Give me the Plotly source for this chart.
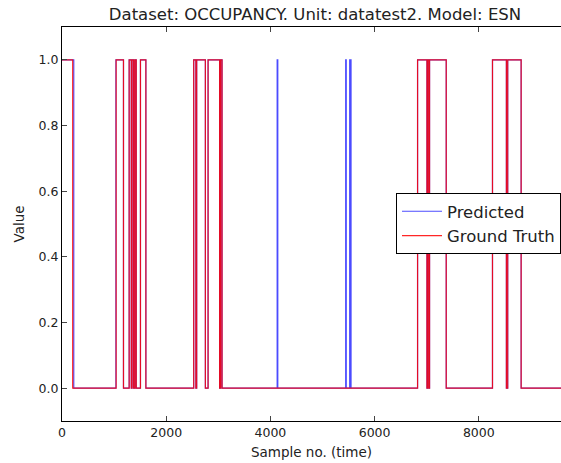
import plotly.graph_objects as go

# Occupancy step signals: sample index where each level starts, and the level (0/1)
truth_edges = [0, 205, 1039, 1180, 1289, 1330, 1345, 1375, 1400, 1425, 1506, 1610,
               2528, 2570, 2585, 2752, 2804, 3025, 3045, 3072,
               6825, 7005, 7015, 7040, 7055, 7375, 8263, 8530, 8555, 8813, 9752]
truth_levels = [1, 0, 1, 0, 1, 0, 1, 0, 1, 0, 1, 0,
                1, 0, 1, 0, 1, 0, 1, 0,
                1, 0, 1, 0, 1, 0, 1, 0, 1, 0, 0]

pred_edges = [0, 226, 1035, 1180, 1289, 1330, 1345, 1375, 1400, 1425, 1506, 1610,
              2528, 2570, 2585, 2752, 2804, 3025, 3045, 3072,
              4130, 4142, 5445, 5456, 5522, 5530, 5538, 5548,
              6825, 7005, 7015, 7040, 7055, 7375, 8263, 8530, 8555, 8813, 9752]
pred_levels = [1, 0, 1, 0, 1, 0, 1, 0, 1, 0, 1, 0,
               1, 0, 1, 0, 1, 0, 1, 0,
               1, 0, 1, 0, 1, 0, 1, 0,
               1, 0, 1, 0, 1, 0, 1, 0, 1, 0, 0]

x_ticks = [0, 2000, 4000, 6000, 8000]
y_ticks = [0.0, 0.2, 0.4, 0.6, 0.8, 1.0]

W, H = 561, 463
left, top, bottom = 61.5, 27, 421

fig = go.Figure()
fig.add_trace(go.Scatter(x=pred_edges, y=pred_levels, mode="lines", name="Predicted",
                         line=dict(color="#0000ff", width=1.2, shape="hv"), opacity=0.7))
fig.add_trace(go.Scatter(x=truth_edges, y=truth_levels, mode="lines", name="Ground Truth",
                         line=dict(color="#ff0000", width=1.2, shape="hv"), opacity=0.85))

font = "DejaVu Sans"
fig.update_layout(
    width=W, height=H,
    margin=dict(l=left, r=0, t=top, b=H - bottom, autoexpand=False),
    paper_bgcolor="white", plot_bgcolor="white",
    font=dict(family=font, size=12, color="#222"),
    title=dict(text="Dataset: OCCUPANCY. Unit: datatest2. Model: ESN",
               x=315 / W, xanchor="center", xref="container",
               y=1 - 14 / H, yanchor="middle", yref="container",
               font=dict(family=font, size=16.5, color="#222")),
    xaxis=dict(range=[0, 9578], tickvals=x_ticks, ticktext=[str(v) for v in x_ticks],
               ticks="inside", ticklen=5, tickcolor="#444", showline=True, linecolor="black",
               linewidth=1, mirror="ticks", showgrid=False, zeroline=False,
               tickfont=dict(family=font, size=12.5, color="#222"),
               title=dict(text="Sample no. (time)", standoff=8,
                          font=dict(family=font, size=13.5, color="#222"))),
    yaxis=dict(range=[-0.1, 1.1], tickvals=y_ticks, tickformat=".1f",
               ticks="inside", ticklen=5, tickcolor="#444", showline=True, linecolor="black",
               linewidth=1, mirror=False, showgrid=False, zeroline=False,
               tickfont=dict(family=font, size=12.5, color="#222"),
               title=dict(text="Value", standoff=10,
                          font=dict(family=font, size=13.5, color="#222"))),
    legend=dict(x=1, xanchor="right", y=(bottom - 223.5) / (bottom - top), yanchor="middle",
                bgcolor="white", bordercolor="black", borderwidth=1,
                font=dict(family=font, size=16.5, color="#222"),
                itemwidth=40),
    showlegend=True,
)

fig.write_html("out.html")
